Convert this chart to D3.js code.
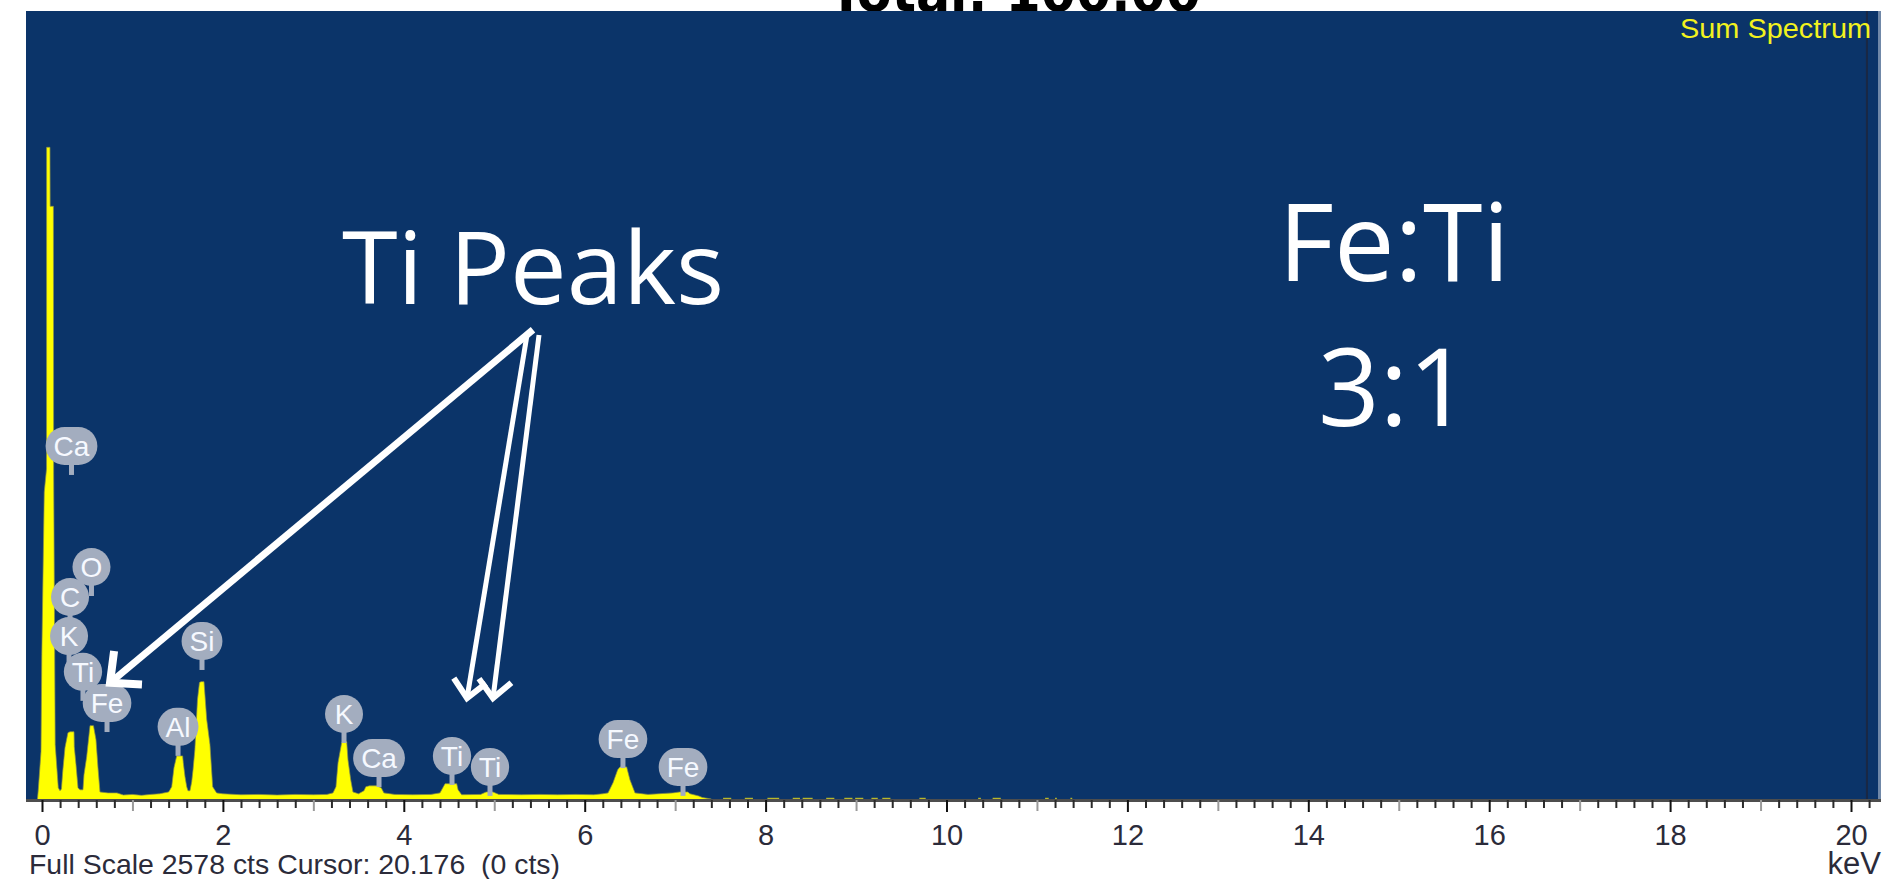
<!DOCTYPE html>
<html>
<head>
<meta charset="utf-8">
<script src="https://cdn.jsdelivr.net/npm/d3@7"></script>
<style>
html,body{margin:0;padding:0;background:#ffffff;overflow:hidden}
svg{display:block}
</style>
</head>
<body>
<svg id="chart" width="1894" height="879"></svg>
<script>
// ---------------- data ----------------
const energyKeV = [
  -0.050,-0.041,-0.011,-0.002,0.025,0.050,0.051,0.088,0.090,0.126,0.129,0.146,0.180,0.199,
  0.215,0.229,0.254,0.287,0.310,0.354,0.357,0.376,0.398,0.420,0.453,
  0.464,0.494,0.520,0.531,0.569,0.597,0.619,0.641,0.730,0.829,
  0.900,1.000,1.100,1.200,1.300,1.400,
  1.415,1.434,1.459,1.489,1.555,1.562,1.581,1.600,1.614,1.636,
  1.655,1.670,1.690,1.719,1.741,1.758,1.791,1.821,1.857,1.887,1.931,
  2.000,2.200,2.400,2.600,2.800,3.000,3.150,
  3.217,3.250,3.273,3.313,3.325,3.369,3.383,3.413,3.438,3.500,
  3.560,3.580,3.620,3.700,3.750,3.780,3.900,4.100,4.300,4.400,
  4.456,4.585,4.600,4.640,4.850,4.910,4.986,5.050,
  5.300,5.500,5.700,5.900,6.100,6.200,
  6.258,6.313,6.365,6.390,6.464,6.500,6.556,6.700,
  6.976,7.050,7.140,7.164,7.260,7.300,7.400
];
const counts = [
  0,30,155,473,1004,1080,2132,2132,1939,1939,1066,178,37,27,
  33,89,168,217,220,220,171,112,37,30,30,
  79,138,210,240,240,194,102,23,20,20,
  13,15,12,15,17,23,
  30,40,102,141,141,119,73,40,27,27,
  56,96,161,325,381,384,384,260,178,40,20,
  17,14,15,13,15,14,15,
  20,40,119,184,187,187,128,63,23,17,
  27,40,43,43,37,20,15,14,15,20,
  50,50,30,14,15,23,23,15,
  14,15,14,15,14,17,
  20,53,96,105,105,63,20,15,
  20,23,23,17,10,5,0
];
// sparse low-count channels in the high-energy tail
const tailStartKeV = [7.53,7.77,8.02,8.30,8.41,8.67,8.87,8.99,9.17,9.29,9.70,10.35,10.51,11.09,11.20,11.37];
const tailEndKeV   = [7.62,7.86,8.15,8.38,8.52,8.76,8.96,9.08,9.24,9.38,9.77,10.38,10.60,11.13,11.22,11.39];
const tailCounts   = [4,4,4,4,4,4,4,4,4,4,4,4,4,4,4,4];

// element markers
const peakLabels   = ["Ca","O","C","K","Ti","Fe","Al","Si","K","Ca","Ti","Ti","Fe","Fe"];
const peakLabelKeV = [0.326,0.547,0.310,0.299,0.453,0.719,1.504,1.769,3.339,3.726,4.533,4.953,6.423,7.087];
const peakLabelCts = [1155,759,661,533,416,314,236,517,278,134,141,105,196,105];

// axis
const majorTickKeV = [0,2,4,6,8,10,12,14,16,18,20];
const majorTickLabels = ["0","2","4","6","8","10","12","14","16","18","20"];
const xUnit = "keV";

// status / titles
const fullScaleCts = 2578;
const cursorKeV = 20.176;
const cursorCts = 0;
const spectrumName = "Sum Spectrum";
const titleText = "Total: 100.00";
const arrowLabel = "Ti Peaks";
const ratioLines = ["Fe:Ti", "3:1"];
// arrows: from (keV, cts) to (keV, cts)
const arrowFromKeV = [5.428, 5.362, 5.495];
const arrowFromCts = [1535, 1518, 1518];
const arrowToKeV   = [0.752, 4.699, 4.986];
const arrowToCts   = [380, 330, 330];

// ---------------- drawing ----------------
const svg = d3.select("#chart");
const W = 1894, H = 879;
const plot = {left: 26, right: 1878, top: 11, bottom: 799};

const x = d3.scaleLinear().domain([0, 20]).range([42, 1851]);
const y = d3.scaleLinear().domain([0, fullScaleCts]).range([799, 11]);

svg.append("rect").attr("width", W).attr("height", H).attr("fill", "#ffffff");

// title (cut off by the top of the image)
svg.append("text")
  .attr("x", 1015).attr("y", 11)
  .attr("text-anchor", "middle")
  .attr("font-family", "'DejaVu Sans', sans-serif")
  .attr("font-weight", "bold")
  .attr("font-size", 56)
  .attr("textLength", 372)
  .attr("lengthAdjust", "spacingAndGlyphs")
  .attr("fill", "#000")
  .text(titleText);

// plot background
svg.append("rect")
  .attr("x", plot.left).attr("y", plot.top)
  .attr("width", plot.right - plot.left).attr("height", plot.bottom - plot.top)
  .attr("fill", "#0b3469");
// right border strip
svg.append("rect")
  .attr("x", plot.right).attr("y", plot.top)
  .attr("width", 3).attr("height", plot.bottom - plot.top)
  .attr("fill", "#7088a8");

// spectrum
const pts = energyKeV.map((e, i) => ({e, c: counts[i]}));
const area = d3.area().x(d => x(d.e)).y0(y(0)).y1(d => y(d.c)).curve(d3.curveLinear);
const line = d3.line().x(d => x(d.e)).y(d => y(d.c)).curve(d3.curveLinear);
svg.append("path").datum(pts).attr("d", area).attr("fill", "#ffff00");
svg.append("path").datum(pts).attr("d", line)
  .attr("fill", "none").attr("stroke", "#8a9046").attr("stroke-width", 1).attr("opacity", 0.7);

svg.append("g").selectAll("rect")
  .data(tailStartKeV.map((s, i) => ({s, e: tailEndKeV[i], c: tailCounts[i]})))
  .join("rect")
  .attr("x", d => x(d.s)).attr("width", d => Math.max(1, x(d.e) - x(d.s)))
  .attr("y", d => y(d.c)).attr("height", d => y(0) - y(d.c))
  .attr("fill", "#b9b92c");

// cursor line
svg.append("rect")
  .attr("x", x(cursorKeV) - 1).attr("y", plot.top)
  .attr("width", 2).attr("height", plot.bottom - plot.top)
  .attr("fill", "#1a2844");

// element markers
const bubbleFill = "#a3adbf";
const lab = svg.append("g").attr("font-family", "'Liberation Sans', Arial, sans-serif").attr("font-size", 28);
peakLabels.forEach((t, i) => {
  const cx = x(peakLabelKeV[i]), cy = y(peakLabelCts[i]);
  const g = lab.append("g").attr("transform", `translate(${cx},${cy})`);
  g.append("rect").attr("x", -2.5).attr("y", 15).attr("width", 5).attr("height", 14).attr("fill", bubbleFill);
  const txt = g.append("text").attr("text-anchor", "middle").attr("dy", "0.36em")
    .attr("fill", "#f6f9ff").text(t);
  const tw = txt.node().getComputedTextLength();
  const w = Math.max(38, tw + 16);
  g.insert("rect", "text")
    .attr("x", -w / 2).attr("y", -19).attr("width", w).attr("height", 38)
    .attr("rx", 19).attr("ry", 19).attr("fill", bubbleFill);
});

// axis line
svg.append("rect").attr("x", plot.left).attr("y", 799).attr("width", plot.right + 3 - plot.left).attr("height", 3).attr("fill", "#4d4d4d");

// ticks
const minorVals = d3.range(0, 102).filter(i => i % 5 !== 0).map(i => i / 5);
const oddVals = d3.range(1, 21, 2);
const axMinor = d3.axisBottom(x).tickValues(minorVals).tickSize(8).tickFormat("");
const axOdd = d3.axisBottom(x).tickValues(oddVals).tickSize(11).tickFormat("");
const axMajor = d3.axisBottom(x).tickValues(majorTickKeV).tickSize(12).tickPadding(12)
  .tickFormat((d, i) => majorTickLabels[i]);

function styleAxis(g, color) {
  g.select(".domain").remove();
  g.selectAll(".tick line").attr("stroke", color).attr("stroke-width", 2);
}
svg.append("g").attr("transform", "translate(0,800)").call(axMinor).call(g => styleAxis(g, "#2a2a2a"));
svg.append("g").attr("transform", "translate(0,800)").call(axOdd).call(g => styleAxis(g, "#9a9a9a"));
svg.append("g").attr("transform", "translate(0,800)").call(axMajor).call(g => {
  styleAxis(g, "#111");
  g.selectAll(".tick text").attr("font-family", "'Liberation Sans', Arial, sans-serif")
    .attr("font-size", 29).attr("fill", "#2b2b3a");
});

// status line + unit
svg.append("text")
  .attr("x", 29).attr("y", 874)
  .attr("font-family", "'Liberation Sans', Arial, sans-serif").attr("font-size", 28)
  .attr("fill", "#2b2b3a")
  .style("white-space", "pre")
  .attr("textLength", 531).attr("lengthAdjust", "spacingAndGlyphs")
  .text(`Full Scale ${fullScaleCts} cts Cursor: ${cursorKeV.toFixed(3)}  (${cursorCts} cts)`);
svg.append("text")
  .attr("x", 1881).attr("y", 874).attr("text-anchor", "end")
  .attr("font-family", "'Liberation Sans', Arial, sans-serif").attr("font-size", 31)
  .attr("fill", "#2b2b3a")
  .text(xUnit);

// spectrum name
svg.append("text")
  .attr("x", 1680).attr("y", 38)
  .attr("font-family", "'Liberation Sans', Arial, sans-serif").attr("font-size", 27)
  .attr("textLength", 191).attr("lengthAdjust", "spacingAndGlyphs")
  .attr("fill", "#f2f21e")
  .text(spectrumName);

// arrows
const arrows = svg.append("g").attr("stroke", "#ffffff").attr("fill", "none")
  .attr("stroke-linecap", "butt").attr("stroke-linejoin", "miter");
arrowFromKeV.forEach((_, i) => {
  const x0 = x(arrowFromKeV[i]), y0 = y(arrowFromCts[i]);
  const x1 = x(arrowToKeV[i]), y1 = y(arrowToCts[i]);
  const ang = Math.atan2(y1 - y0, x1 - x0);
  const L = i === 0 ? 32 : 24, spread = Math.PI / 4.2;
  arrows.append("line").attr("x1", x0).attr("y1", y0).attr("x2", x1).attr("y2", y1)
    .attr("stroke-width", i === 0 ? 7 : 5);
  const a1 = ang + Math.PI - spread, a2 = ang + Math.PI + spread;
  arrows.append("path")
    .attr("d", `M${x1 + L * Math.cos(a1)},${y1 + L * Math.sin(a1)} L${x1},${y1} L${x1 + L * Math.cos(a2)},${y1 + L * Math.sin(a2)}`)
    .attr("stroke-width", i === 0 ? 8 : 6);
});

// annotation texts
const ann = svg.append("g").attr("font-family", "'Open Sans', sans-serif").attr("fill", "#ffffff").attr("text-anchor", "middle");
ann.append("text").attr("x", 533).attr("y", 304).attr("font-size", 101).text(arrowLabel);
ann.append("text").attr("x", 1394).attr("y", 281).attr("font-size", 108).text(ratioLines[0]);
ann.append("text").attr("x", 1394).attr("y", 426).attr("font-size", 108).text(ratioLines[1]);
</script>
</body>
</html>
